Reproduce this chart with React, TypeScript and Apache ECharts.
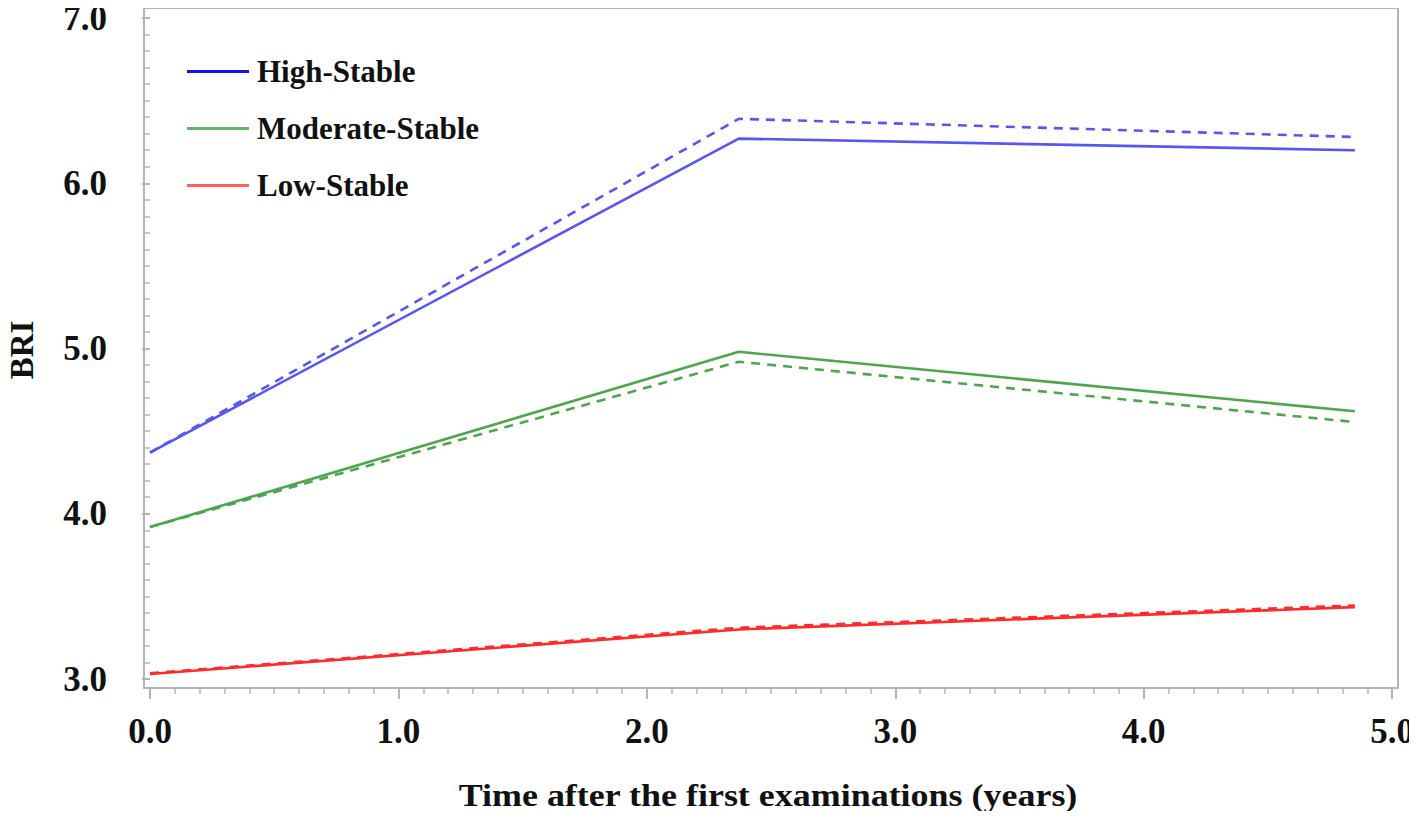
import React, { useEffect, useRef } from "react";
import * as echarts from "echarts";

const times = [0.0, 2.37, 4.85];
const highSolid = [4.37, 6.27, 6.2];
const highDashed = [4.37, 6.39, 6.28];
const modSolid = [3.92, 4.98, 4.62];
const modDashed = [3.92, 4.92, 4.555];
const lowSolid = [3.03, 3.3, 3.435];
const lowDashed = [3.035, 3.31, 3.445];
const legendNames = ["High-Stable", "Moderate-Stable", "Low-Stable"];
const xTicks = [0, 1, 2, 3, 4, 5];

const FONT = "'Liberation Serif', 'Times New Roman', serif";

const pairs = (ys: number[]) => times.map((t, i) => [t, ys[i]]);

export default function App() {
  const ref = useRef<HTMLDivElement>(null);
  useEffect(() => {
    if (!ref.current) return;
    const chart = echarts.init(ref.current, null, { renderer: "svg" });
    const blue = "#5656f2";
    const green = "#4ca64c";
    const red = "#ff2b2b";
    const mk = (name: string, ys: number[], color: string, dashed: boolean) => ({
      type: "line",
      name,
      xAxisIndex: 0,
      yAxisIndex: 0,
      data: pairs(ys),
      symbol: "none",
      lineStyle: { color, width: 2.6, type: dashed ? [9, 7] : "solid" },
      itemStyle: { color },
      z: dashed ? 3 : 4,
    });
    chart.setOption({
      animation: false,
      backgroundColor: "#ffffff",
      grid: [
        { left: 150, right: 24, top: 18, bottom: 140 },
        { left: 144, right: 19, top: 8, bottom: 131, show: true, borderColor: "#b4b4b4", borderWidth: 2, backgroundColor: "transparent" },
      ],
      legend: {
        orient: "vertical",
        left: 187,
        top: 56,
        padding: 0,
        itemWidth: 62,
        itemHeight: 3,
        itemGap: 26,
        icon: "rect",
        textStyle: { fontFamily: FONT, fontWeight: "bold", fontSize: 31, color: "#111", padding: [0, 0, 0, 3] },
        data: [
          { name: legendNames[0], itemStyle: { color: "#1414e6" } },
          { name: legendNames[1], itemStyle: { color: "#66b366" } },
          { name: legendNames[2], itemStyle: { color: "#ff6060" } },
        ],
      },
      xAxis: [
        {
          type: "value",
          gridIndex: 0,
          min: 0,
          max: 5,
          interval: 1,
          offset: 9,
          axisLine: { show: false },
          axisTick: { show: true, length: 11, lineStyle: { color: "#b4b4b4", width: 2 } },
          minorTick: { show: true, splitNumber: 10, length: 6, lineStyle: { color: "#b4b4b4", width: 1.5 } },
          splitLine: { show: false },
          axisLabel: {
            margin: 29,
            fontFamily: FONT,
            fontWeight: "bold",
            fontSize: 35,
            lineHeight: 28,
            color: "#111",
            formatter: (v: number) => (xTicks.includes(v) ? v.toFixed(1) : ""),
          },
        },
        { type: "value", gridIndex: 1, show: false, min: 0, max: 1 },
      ],
      yAxis: [
        {
          type: "value",
          gridIndex: 0,
          min: 3,
          max: 7,
          interval: 1,
          offset: 6,
          axisLine: { show: false },
          axisTick: { show: true, length: 8, lineStyle: { color: "#b4b4b4", width: 2 } },
          minorTick: { show: true, splitNumber: 10, length: 5, lineStyle: { color: "#b4b4b4", width: 1.5 } },
          splitLine: { show: false },
          axisLabel: {
            margin: 37,
            fontFamily: FONT,
            fontWeight: "bold",
            fontSize: 35,
            lineHeight: 28,
            color: "#111",
            formatter: (v: number) => v.toFixed(1),
          },
        },
        { type: "value", gridIndex: 1, show: false, min: 0, max: 1 },
      ],
      graphic: [
        {
          type: "text",
          x: 768,
          y: 795,
          scaleX: 1.16,
          style: {
            text: "Time after the first examinations (years)",
            font: `bold 31px ${FONT}`,
            fill: "#111",
            align: "center",
            verticalAlign: "middle",
          },
        },
        {
          type: "text",
          x: 22,
          y: 350,
          rotation: Math.PI / 2,
          style: {
            text: "BRI",
            font: `bold 33px ${FONT}`,
            fill: "#111",
            align: "center",
            verticalAlign: "middle",
          },
        },
      ],
      series: [
        mk(legendNames[0], highSolid, blue, false),
        mk(legendNames[0] + " (dashed)", highDashed, blue, true),
        mk(legendNames[1], modSolid, green, false),
        mk(legendNames[1] + " (dashed)", modDashed, green, true),
        mk(legendNames[2], lowSolid, red, false),
        mk(legendNames[2] + " (dashed)", lowDashed, red, true),
      ],
    });
    return () => chart.dispose();
  }, []);
  return <div ref={ref} style={{ width: 1417, height: 819, margin: -8 }} />;
}
